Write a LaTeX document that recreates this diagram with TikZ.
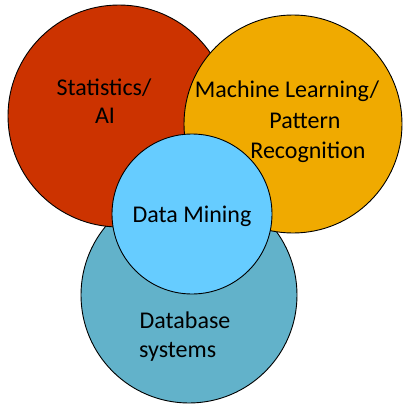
\documentclass[tikz,border=0pt]{standalone}
\usepackage{fontspec}
\setmainfont{Carlito}
\definecolor{cred}{HTML}{CC3300}
\definecolor{corange}{HTML}{F0AA00}
\definecolor{cblue}{HTML}{62B2CA}
\definecolor{clight}{HTML}{66CCFF}
\begin{document}
\begin{tikzpicture}[x=1pt,y=-1pt,
  disc/.style={circle,draw=black,line width=0.9pt,inner sep=0pt},
  lbl/.style={anchor=base,inner sep=0pt,font=\fontsize{24}{28}\selectfont,text=black}]
\useasboundingbox (0,0) rectangle (414,415);
\node[disc,fill=cblue,minimum size=216pt] (db) at (189,295) {};
\node[disc,fill=cred,minimum size=222pt] (stat) at (119,116) {};
\node[disc,fill=corange,minimum size=218pt] (ml) at (293,124) {};
\node[disc,fill=clight,minimum size=160pt] (dm) at (192,214) {};
\node[lbl] (t1) at (104,95) {Statistics/};
\node[lbl] (t2) at (105,123) {AI};
\node[lbl] (t3) at (287,97) {Machine Learning/};
\node[lbl] (t4) at (305,128) {Pattern};
\node[lbl] (t5) at (308,158) {Recognition};
\node[lbl] (t6) at (192,222) {Data Mining};
\node[lbl] (t7) at (185,328) {Database};
\node[lbl,anchor=base west] (t8) at (139,357) {systems};
\end{tikzpicture}
\end{document}
